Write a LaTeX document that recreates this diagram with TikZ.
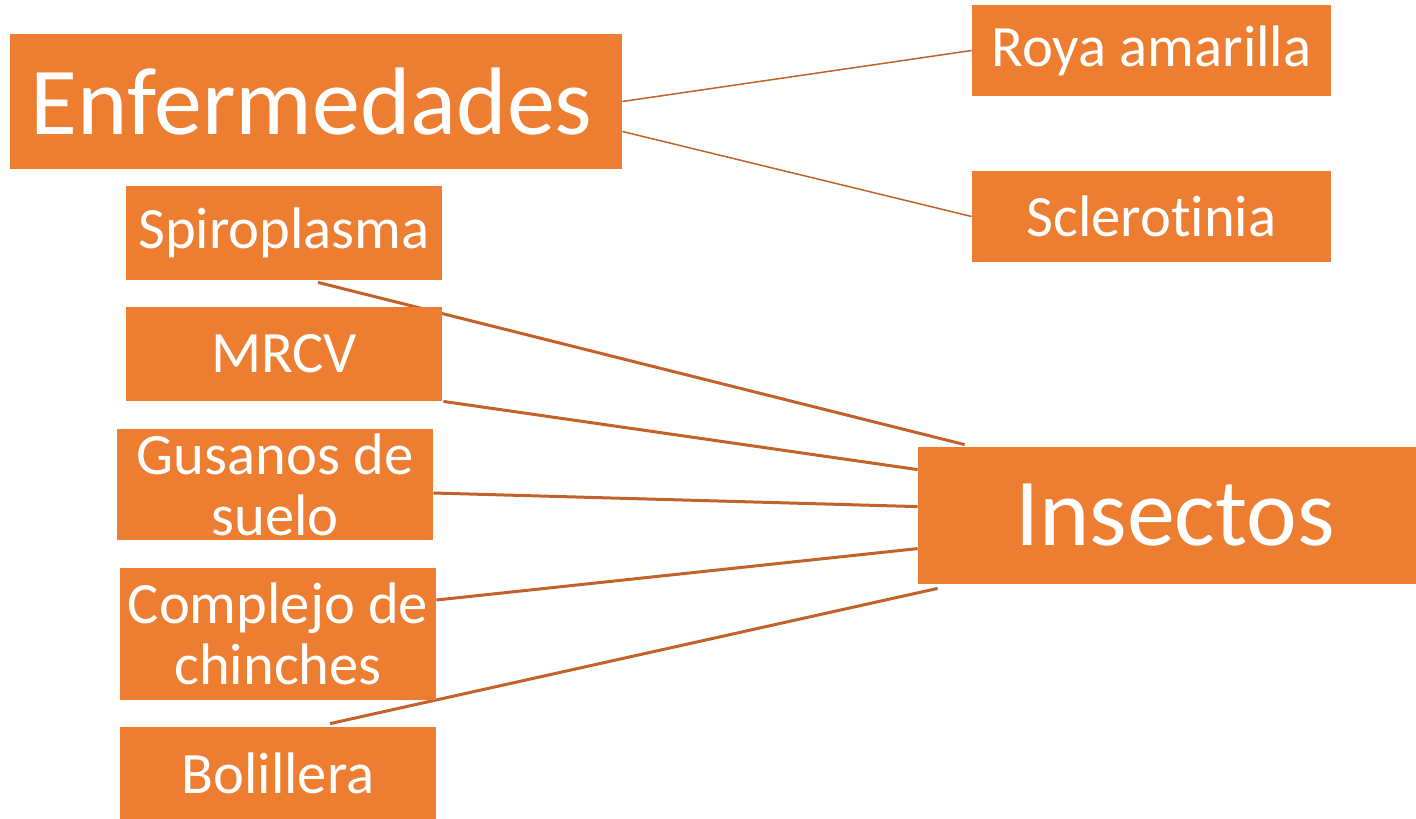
\documentclass[tikz,border=0pt]{standalone}
\usepackage{fontspec}
\setmainfont{Carlito}[Ligatures={CommonOff}]
\usetikzlibrary{backgrounds,calc}
\definecolor{boxorange}{HTML}{ED7D31}
\definecolor{lineorange}{RGB}{193,98,43}
\tikzset{
  box/.style={rectangle, fill=boxorange, draw=none, text=white, inner sep=0pt, align=center},
  big/.style={box, font=\fontsize{48}{50}\selectfont},
  small/.style={box, font=\fontsize{29.3}{30.5}\selectfont},
  thinlink/.style={draw=lineorange, line width=0.75pt},
  thicklink/.style={draw=lineorange, line width=1.5pt}
}
\begin{document}
\begin{tikzpicture}[x=0.5pt,y=-0.5pt]
\path[use as bounding box] (0,0) rectangle (1416,818);
\clip (0,0) rectangle (1416,818);
\node[big, minimum width=306pt, minimum height=67.5pt] (enf) at (316,101.5) {Enfermedades\hspace*{4.5pt}};
\node[small, minimum width=179.5pt, minimum height=45.5pt] (roya) at (1151.5,50.5) {Roya amarilla};
\node[small, minimum width=179.5pt, minimum height=45.5pt] (scler) at (1151.5,216.5) {Sclerotinia};
\node[small, minimum width=158pt, minimum height=47pt] (spiro) at (284,233) {Spiroplasma};
\node[small, minimum width=158pt, minimum height=47pt] (mrcv) at (284,354) {MRCV};
\node[small, minimum width=158pt, minimum height=55.5pt] (gus) at (275,484.5) {Gusanos de\\suelo};
\node[small, minimum width=158pt, minimum height=66pt] (comp) at (278,634) {Complejo de\\chinches};
\node[small, minimum width=158pt, minimum height=46pt] (bol) at (278,773) {Bolillera};
\node[big, minimum width=257pt, minimum height=68.5pt] (ins) at (1175,515.5) {Insectos};
\begin{scope}[on background layer]
\draw[thinlink] (enf.east) -- (roya.west);
\draw[thinlink] ($(enf.east)+(0,30)$) -- (scler.west);
\draw[thicklink] ($(ins.north west)+(47,-2)$) -- ($(spiro.south)+(34,2)$);
\draw[thicklink] ($(ins.north west)+(0,23)$) -- ($(mrcv.south east)+(1,0)$);
\draw[thicklink] ($(ins.north west)+(0,60)$) -- ($(gus.east)+(0,8.5)$);
\draw[thicklink] ($(ins.north west)+(0,102)$) -- ($(comp.east)+(0,-34)$);
\draw[thicklink] ($(ins.south west)+(20,4)$) -- ($(bol.north)+(52,-3)$);
\end{scope}
\end{tikzpicture}
\end{document}
